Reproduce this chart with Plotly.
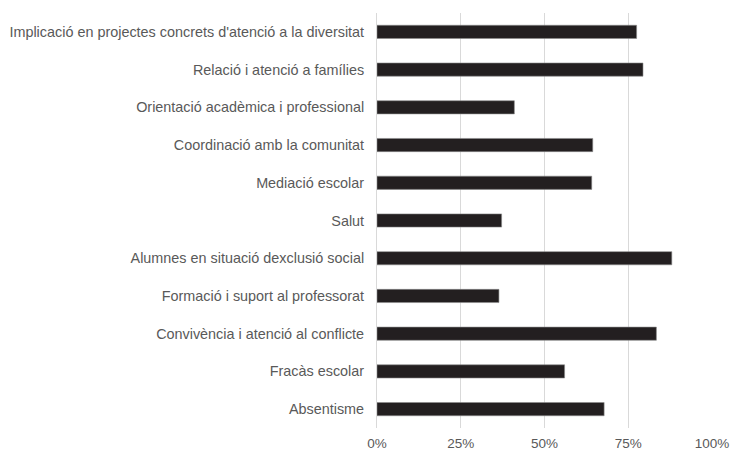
import plotly.graph_objects as go

categories = [
    "Implicació en projectes concrets d'atenció a la diversitat",
    "Relació i atenció a famílies",
    "Orientació acadèmica i professional",
    "Coordinació amb la comunitat",
    "Mediació escolar",
    "Salut",
    "Alumnes en situació dexclusió social",
    "Formació i suport al professorat",
    "Convivència i atenció al conflicte",
    "Fracàs escolar",
    "Absentisme",
]
values = [77.5, 79.4, 41.0, 64.4, 64.1, 37.2, 88.0, 36.4, 83.4, 56.0, 67.8]
x_ticks = [0, 25, 50, 75, 100]
x_tick_labels = ["0%", "25%", "50%", "75%", "100%"]

fig = go.Figure(go.Bar(
    y=categories,
    x=values,
    orientation="h",
    marker=dict(color="#231f20", line=dict(color="#8c8c8c", width=0.6)),
    width=0.35,
))

fig.update_layout(
    width=731, height=450,
    margin=dict(l=377, r=18, t=13, b=22, autoexpand=False),
    paper_bgcolor="white", plot_bgcolor="white",
    font=dict(family="Liberation Sans, Arial, sans-serif", size=14.4, color="#595959"),
    showlegend=False,
)
fig.update_xaxes(
    range=[0, 100.3], tickvals=x_ticks, ticktext=x_tick_labels,
    tickfont=dict(size=13.5),
    showgrid=True, gridcolor="#d9d9d9", gridwidth=1,
    zeroline=False, showline=False, ticks="",
    ticklabelstandoff=5, automargin=False, ticklabeloverflow="allow",
)
fig.update_yaxes(
    categoryorder="array", categoryarray=categories[::-1],
    showgrid=False, zeroline=False, ticks="",
    showline=True, linecolor="#d9d9d9", linewidth=1,
    ticklabelstandoff=9, automargin=False,
)

fig.write_html(
    "out.html",
    config={"displayModeBar": False},
    post_script="document.body.style.margin='0';document.body.style.overflow='hidden';",
)
